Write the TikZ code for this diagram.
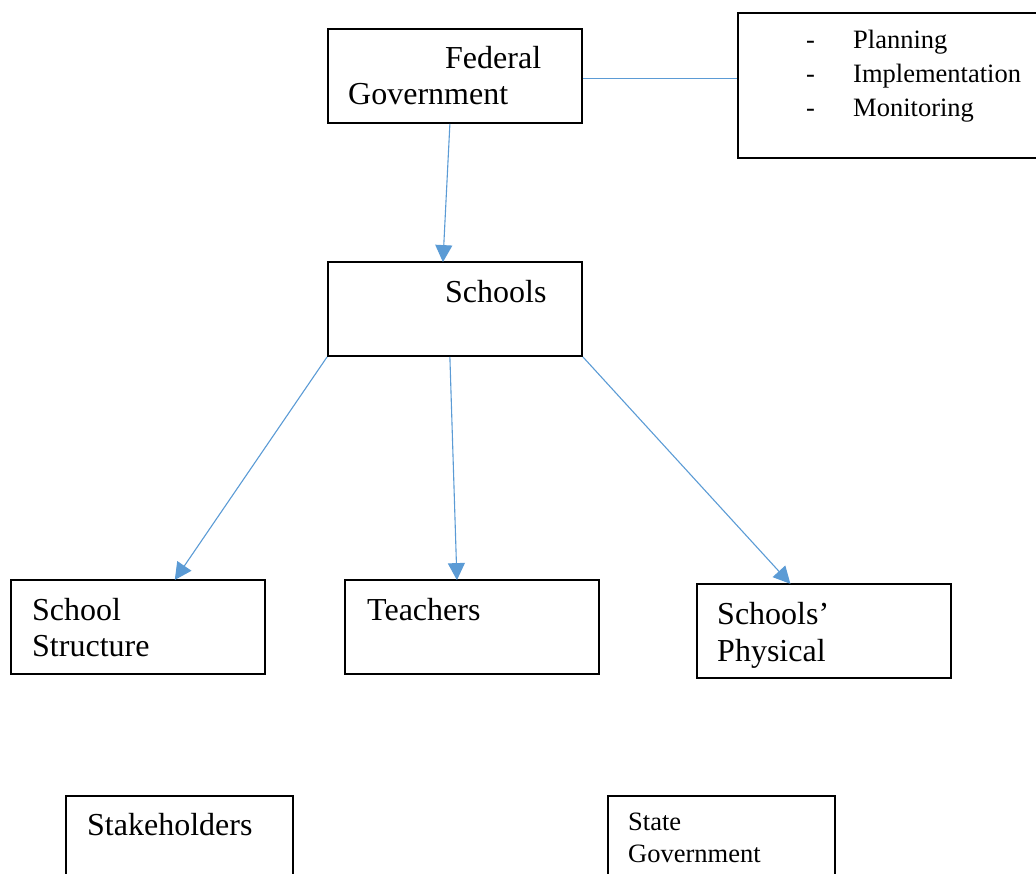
\documentclass[tikz,border=0pt]{standalone}
\usepackage{fontspec}
\setmainfont{Liberation Serif}
\usetikzlibrary{arrows.meta,calc}
\definecolor{linkblue}{RGB}{91,155,213}
\tikzset{
  box/.style={draw=black, line width=1.8pt, inner sep=0pt, minimum width=254pt, minimum height=94pt},
  bigtext/.style={anchor=base west, inner sep=0pt, font=\fontsize{32}{36}\selectfont},
  smalltext/.style={anchor=base west, inner sep=0pt, font=\fontsize{26.5}{30}\selectfont},
  link/.style={draw=linkblue, line width=1.1pt},
  arrowlink/.style={link, -{Triangle[length=17pt,width=17pt]}, shorten >=-1pt}
}
\begin{document}
\begin{tikzpicture}[x=1pt,y=-1pt]
\useasboundingbox (0,0) rectangle (1036,873);
\clip (0,0) rectangle (1036,873);
% boxes
\node[box] (fed) at (455,76) {};
\node[box, minimum width=302pt, minimum height=145pt] (tasks) at (889,85.5) {};
\node[box] (sch) at (455,309) {};
\node[box] (struct) at (138,627) {};
\node[box] (teach) at (472,627) {};
\node[box] (phys) at (824,631) {};
\node[box, minimum width=227pt, minimum height=120pt] (stake) at (179.5,856) {};
\node[box, minimum width=227pt, minimum height=120pt] (state) at (721.5,856) {};
% texts
\node[bigtext] (t1) at (445,68) {Federal};
\node[bigtext] (t2) at (348,104) {Government};
\node[smalltext] (d1) at (806,48) {-};
\node[smalltext] (d2) at (806,82) {-};
\node[smalltext] (d3) at (806,116) {-};
\node[smalltext] (p1) at (853,48) {Planning};
\node[smalltext] (p2) at (853,82) {Implementation};
\node[smalltext] (p3) at (853,116) {Monitoring};
\node[bigtext] (t3) at (445,302) {Schools};
\node[bigtext] (t4) at (32,620) {School};
\node[bigtext] (t5) at (32,656) {Structure};
\node[bigtext] (t6) at (367,620) {Teachers};
\node[bigtext] (t7) at (717,624) {Schools’};
\node[bigtext] (t8) at (717,661) {Physical};
\node[bigtext] (t9) at (87,835) {Stakeholders};
\node[smalltext] (t10) at (628,830) {State};
\node[smalltext] (t11) at (628,862) {Government};
% connectors
\coordinate (fedR) at ($(fed.north east)!0.53!(fed.south east)$);
\draw[link] (fedR) -- (fedR -| tasks.west);
\draw[arrowlink] ($(fed.south west)!0.48!(fed.south east)$) -- ($(sch.north west)!0.453!(sch.north east)$);
\draw[arrowlink] (sch.south west) -- ($(struct.north west)!0.646!(struct.north east)$);
\draw[arrowlink] ($(sch.south west)!0.48!(sch.south east)$) -- ($(teach.north west)!0.441!(teach.north east)$);
\draw[arrowlink] (sch.south east) -- ($(phys.north west)!0.366!(phys.north east)$);
\end{tikzpicture}
\end{document}
